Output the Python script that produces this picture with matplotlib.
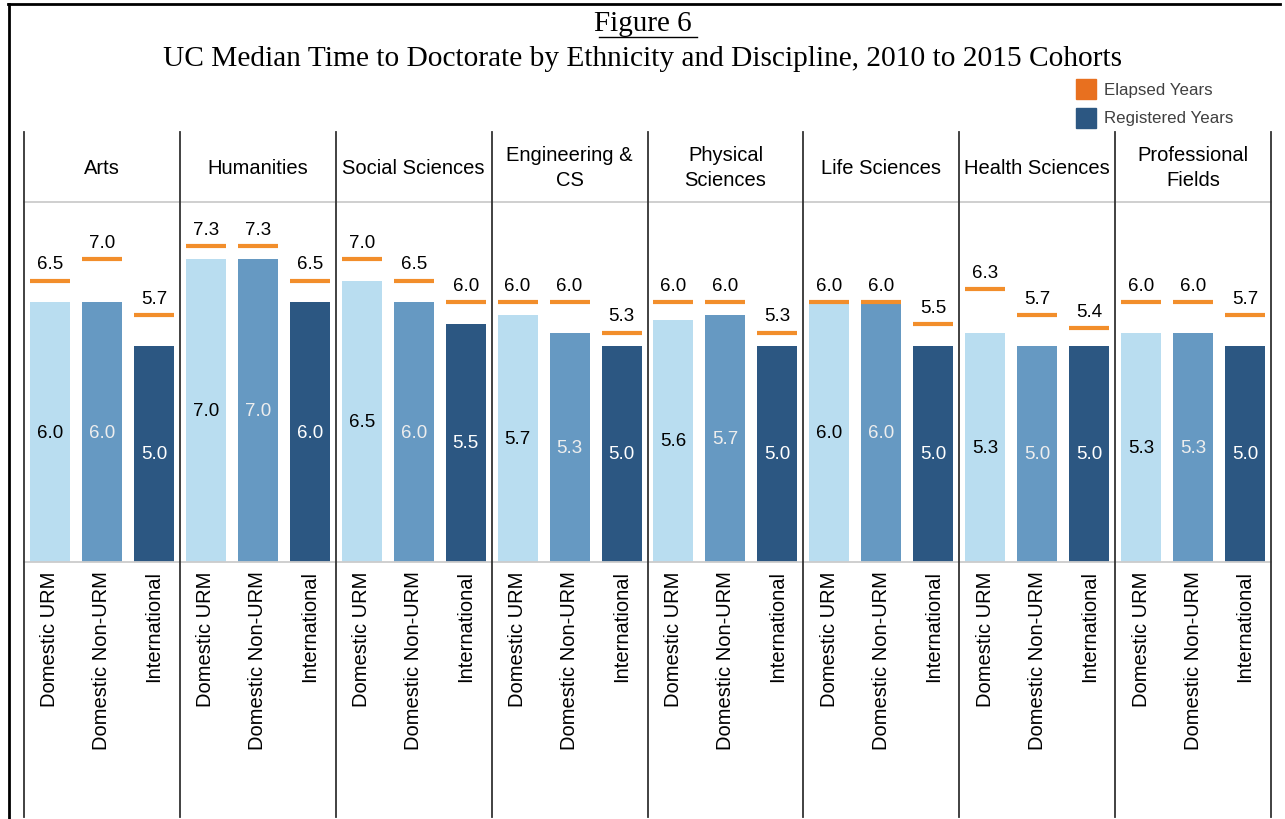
import matplotlib
matplotlib.use("Agg")
import matplotlib.pyplot as plt
from matplotlib.lines import Line2D
from matplotlib.patches import Rectangle

# data
disciplines = ["Arts", "Humanities", "Social Sciences", "Engineering &\nCS",
               "Physical\nSciences", "Life Sciences", "Health Sciences",
               "Professional\nFields"]
groups = ["Domestic URM", "Domestic Non-URM", "International"]

registered = [
    [6.0, 6.0, 5.0],
    [7.0, 7.0, 6.0],
    [6.5, 6.0, 5.5],
    [5.7, 5.3, 5.0],
    [5.6, 5.7, 5.0],
    [6.0, 6.0, 5.0],
    [5.3, 5.0, 5.0],
    [5.3, 5.3, 5.0],
]
elapsed = [
    [6.5, 7.0, 5.7],
    [7.3, 7.3, 6.5],
    [7.0, 6.5, 6.0],
    [6.0, 6.0, 5.3],
    [6.0, 6.0, 5.3],
    [6.0, 6.0, 5.5],
    [6.3, 5.7, 5.4],
    [6.0, 6.0, 5.7],
]

bar_colors = ["#B9DDF0", "#6699C2", "#2C5782"]
label_colors = ["black", "#EEEEEE", "white"]
orange = "#F28E2B"

W, H = 1285, 820
fig = plt.figure(figsize=(W / 100, H / 100), dpi=100)
plt.rcParams["font.family"] = ["Liberation Sans", "DejaVu Sans"]

def fx(px):
    return px / W

def fy(py):
    return 1 - py / H

left_px, right_px = 24, 1271
panel_w = (right_px - left_px) / len(disciplines)
top_px, base_px = 203, 563
px_per_year = 43.3

for i, disc in enumerate(disciplines):
    x0 = left_px + i * panel_w
    ax = fig.add_axes([fx(x0), fy(base_px), fx(panel_w), (base_px - top_px) / H])
    xs = list(range(len(groups)))
    ax.bar(xs, registered[i], width=0.77, color=bar_colors)
    ax.hlines(elapsed[i], [x - 0.385 for x in xs], [x + 0.385 for x in xs],
              colors=orange, linewidth=3)
    for x, r, e, lc in zip(xs, registered[i], elapsed[i], label_colors):
        ax.text(x, r / 2, f"{r:.1f}", ha="center", va="center", fontsize=13.5, color=lc)
        ax.annotate(f"{e:.1f}", (x, e), xytext=(0, 6), textcoords="offset points",
                    ha="center", va="bottom", fontsize=13.5, color="black")
    ax.set_xlim(-0.5, 2.5)
    ax.set_ylim(0, (base_px - top_px) / px_per_year)
    ax.set_xticks(xs)
    ax.set_xticklabels(groups, rotation=90, fontsize=14.5, va="top")
    ax.tick_params(axis="x", length=0, pad=6)
    ax.set_yticks([])
    for s in ax.spines.values():
        s.set_visible(False)
    # discipline header
    fig.text(fx(x0 + panel_w / 2), fy(168), disc, ha="center", va="center",
             fontsize=14.5, linespacing=1.4)

# gray horizontal rules
for y in (top_px, base_px):
    fig.add_artist(Line2D([fx(left_px), fx(right_px)], [fy(y), fy(y)],
                          color="#CCCCCC", linewidth=1.3))

# dark vertical separators
for i in range(len(disciplines) + 1):
    x = left_px + i * panel_w
    fig.add_artist(Line2D([fx(x), fx(x)], [fy(133), fy(818)],
                          color="#333333", linewidth=1.3))

# outer frame (left and top)
fig.add_artist(Line2D([fx(9), fx(9)], [fy(5), fy(H)], color="black", linewidth=2))
fig.add_artist(Line2D([fx(8), fx(1280)], [fy(5), fy(5)], color="black", linewidth=2))

# titles
fig.text(0.5, fy(24), "Figure 6", ha="center", va="center", fontsize=21,
         family="Liberation Serif")
fig.add_artist(Line2D([fx(599), fx(697)], [fy(38), fy(38)], color="black", linewidth=1))
fig.text(0.5, fy(59), "UC Median Time to Doctorate by Ethnicity and Discipline, 2010 to 2015 Cohorts",
         ha="center", va="center", fontsize=21.2, family="Liberation Serif")

# legend
for y, c, lab in [(80, "#E8701F", "Elapsed Years"), (109, "#2C5782", "Registered Years")]:
    fig.add_artist(Rectangle((fx(1076), fy(y + 20)), fx(20), 20 / H, color=c,
                             transform=fig.transFigure))
    fig.text(fx(1104), fy(y + 10), lab, ha="left", va="center", fontsize=12.2,
             color="#404040")

fig.savefig("out.png", dpi=100)
